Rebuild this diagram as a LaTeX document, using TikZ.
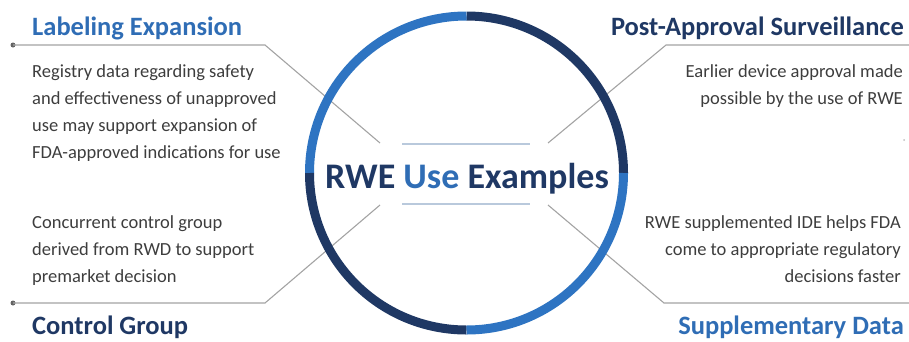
\documentclass[tikz,border=0pt]{standalone}
\usepackage{fontspec}
\setmainfont{Carlito}
\definecolor{navy}{HTML}{1F3864}
\definecolor{brightblue}{HTML}{2E74C2}
\definecolor{titleblue}{HTML}{2F6DB5}
\definecolor{bodygray}{HTML}{3D3D3D}
\definecolor{linegray}{HTML}{A3A3A3}
\definecolor{paleblue}{HTML}{B9C9DC}
\begin{document}
\begin{tikzpicture}[x=1pt,y=-1pt,
  heading/.style={inner sep=0pt,font=\fontsize{26.5}{26.5}\selectfont\bfseries},
  bodytext/.style={inner sep=0pt,text=bodygray,font=\fontsize{18.5}{27.2}\selectfont},
  conn/.style={draw=linegray,line width=1.1pt},
  enddot/.style={circle,fill=bodygray!80,inner sep=0pt,minimum size=5pt},
  ring/.style={line width=9pt,line cap=butt},
  rule/.style={draw=paleblue,line width=1.4pt}]
\useasboundingbox (0,0) rectangle (909,341);

% connectors (drawn first so the ring covers them)
\node[enddot] (labD) at (13,45) {};
\coordinate (labK) at (265,45);
\coordinate (labE) at (380,143);
\draw[conn] (labD.center) -- (labK) -- (labE);

\coordinate (postR) at (909,45);
\coordinate (postK) at (666,45);
\coordinate (postE) at (548,143);
\draw[conn] (postR) -- (postK) -- (postE);

\node[enddot] (ctrlD) at (13,303) {};
\coordinate (ctrlK) at (265,303);
\coordinate (ctrlE) at (380,205);
\draw[conn] (ctrlD.center) -- (ctrlK) -- (ctrlE);

\coordinate (suppR) at (909,303);
\coordinate (suppK) at (664,303);
\coordinate (suppE) at (548,205);
\draw[conn] (suppR) -- (suppK) -- (suppE);

\node[circle,fill=linegray!70,inner sep=0pt,minimum size=2pt] (speck) at (904,140) {};

% central ring, four quadrants
\coordinate (c) at (466.5,173);
\draw[ring,navy] (c) ++(0:157) arc (0:-90:157);
\draw[ring,brightblue] (c) ++(-90:157) arc (-90:-180:157);
\draw[ring,navy] (c) ++(180:157) arc (180:90:157);
\draw[ring,brightblue] (c) ++(90:157) arc (90:0:157);

% central title with rules above and below
\node[inner sep=0pt,anchor=base,font=\fontsize{36}{36}\selectfont\bfseries] (center) at (467,188)
  {\textcolor{navy}{RWE} \textcolor{titleblue}{Use} \textcolor{navy}{Examples}};
\coordinate (ruleTL) at (402,144); \coordinate (ruleTR) at (530,144);
\coordinate (ruleBL) at (402,204); \coordinate (ruleBR) at (530,204);
\draw[rule] (ruleTL) -- (ruleTR);
\draw[rule] (ruleBL) -- (ruleBR);

% headings
\node[heading,text=titleblue,anchor=base west] (labT) at (32,35) {Labeling Expansion};
\node[heading,text=navy,anchor=base east] (postT) at (904,35) {Post-Approval Surveillance};
\node[heading,text=navy,anchor=base west] (ctrlT) at (32,334) {Control Group};
\node[heading,text=titleblue,anchor=base east] (suppT) at (904,334) {Supplementary Data};

% descriptions
\node[bodytext,align=left,anchor=north west] (labB) at (32,64)
  {Registry data regarding safety\\and effectiveness of unapproved\\use may support expansion of\\FDA-approved indications for use};
\node[bodytext,align=right,anchor=north east] (postB) at (903,64)
  {Earlier device approval made\\possible by the use of RWE};
\node[bodytext,align=left,anchor=north west] (ctrlB) at (32,215)
  {Concurrent control group\\derived from RWD to support\\premarket decision};
\node[bodytext,align=right,anchor=north east] (suppB) at (901,215)
  {RWE supplemented IDE helps FDA\\come to appropriate regulatory\\decisions faster};
\end{tikzpicture}
\end{document}
